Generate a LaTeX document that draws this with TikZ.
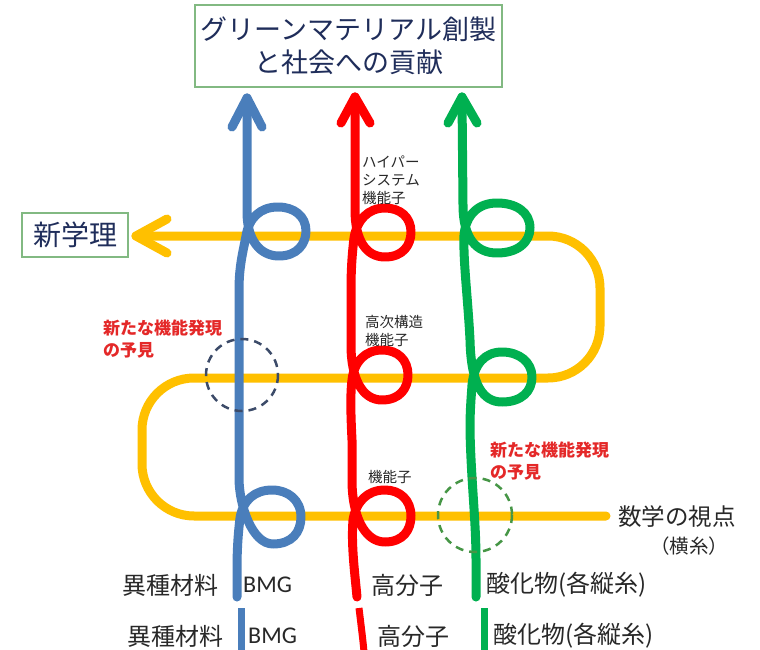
\documentclass[tikz,border=0pt]{standalone}
\usepackage{fontspec}
\setmainfont{Noto Sans CJK JP}
\newfontfamily\latinfont{Carlito}
\definecolor{tyellow}{RGB}{255,192,0}
\definecolor{tblue}{RGB}{74,126,187}
\definecolor{tred}{RGB}{255,0,0}
\definecolor{tgreen}{RGB}{0,176,80}
\definecolor{boxgreen}{RGB}{130,185,130}
\definecolor{navy}{RGB}{31,45,90}
\definecolor{notered}{RGB}{228,40,40}
\definecolor{dashblue}{RGB}{60,75,105}
\definecolor{dashgreen}{RGB}{70,150,70}
\definecolor{txt}{RGB}{40,40,40}
\tikzset{
  thread/.style={line width=9pt, line cap=round, line join=round},
  labelbox/.style={draw=boxgreen, line width=1.5pt, fill=white, text=navy, inner sep=0pt, align=center},
  note/.style={text=notered, font=\fontsize{17}{22}\selectfont\bfseries, align=left, anchor=west, inner sep=0pt},
  smalllabel/.style={text=txt, font=\fontsize{14.5}{18}\selectfont, align=left, anchor=west, inner sep=0pt},
  bottomtext/.style={text=txt, font=\fontsize{24}{26}\selectfont, anchor=west, inner sep=0pt},
  hint/.style={dash pattern=on 8pt off 6pt, line width=2.5pt},
}
\begin{document}
\begin{tikzpicture}[x=1pt,y=-1pt]
\fill[white] (0,0) rectangle (760,650);
\useasboundingbox (0,0) rectangle (760,650);

% coordinates
\coordinate (ytip) at (136,236);
\coordinate (yend) at (606,516);
\coordinate (btip) at (247,98);
\coordinate (bend) at (237,597);
\coordinate (rtip) at (355,97);
\coordinate (rend) at (357,597);
\coordinate (gtip) at (462,97);
\coordinate (gend) at (476,597);

% yellow weft thread
\draw[thread, tyellow, rounded corners=52pt] (yend) -- (142,516) -- (142,378) -- (600,378) -- (600,236) -- (ytip);
\draw[thread, tyellow] (167,219) -- (ytip) -- (167,253);

% blue thread
\draw[thread, tblue] (btip) -- (247,212)
  .. controls (247,240) and (260,256) .. (279,256)
  .. controls (297,256) and (306,244) .. (306,231)
  .. controls (306,216) and (294,207) .. (278,207)
  .. controls (260,207) and (249,218) .. (246,236)
  .. controls (243,252) and (239,266) .. (239,290)
  -- (239,478)
  .. controls (239,505) and (252,544) .. (273,544)
  .. controls (292,544) and (301,532) .. (301,517)
  .. controls (301,500) and (288,490) .. (272,490)
  .. controls (255,490) and (243,500) .. (240,518)
  .. controls (238,535) and (237,550) .. (237,570) -- (bend);
\draw[thread, tblue] (232,127) -- (btip) -- (262,127);

% red thread
\draw[thread, tred] (rtip) -- (355,210)
  .. controls (355,240) and (366,257) .. (385,257)
  .. controls (403,257) and (411,245) .. (411,232)
  .. controls (411,217) and (400,208) .. (385,208)
  .. controls (368,208) and (357,220) .. (354,238)
  .. controls (352,255) and (351,270) .. (351,290)
  -- (351,345)
  .. controls (351,378) and (362,400) .. (382,400)
  .. controls (400,400) and (408,388) .. (408,375)
  .. controls (408,360) and (398,350) .. (382,350)
  .. controls (365,350) and (354,362) .. (352,380)
  .. controls (350,395) and (351,420) .. (352,440)
  -- (352,480)
  .. controls (352,515) and (364,542) .. (385,542)
  .. controls (403,542) and (411,530) .. (411,516)
  .. controls (411,500) and (400,490) .. (385,490)
  .. controls (367,490) and (356,502) .. (353,520)
  .. controls (351,545) and (355,575) .. (rend);
\draw[thread, tred] (341,123) -- (rtip) -- (370,123);

% green thread
\draw[thread, tgreen] (gtip) -- (463,205)
  .. controls (463,238) and (476,253) .. (497,253)
  .. controls (518,253) and (530,242) .. (530,228)
  .. controls (530,212) and (516,203) .. (497,203)
  .. controls (478,203) and (466,215) .. (464,235)
  .. controls (463,260) and (468,300) .. (470,340)
  .. controls (471,385) and (483,402) .. (502,402)
  .. controls (522,402) and (532,391) .. (532,377)
  .. controls (532,362) and (519,352) .. (502,352)
  .. controls (485,352) and (474,364) .. (472,385)
  .. controls (471,400) and (470,410) .. (470,430)
  .. controls (471,480) and (476,520) .. (476,560) -- (gend);
\draw[thread, tgreen] (448,123) -- (gtip) -- (477,123);

% dashed hint circles
\draw[hint, dashblue] (242,375) circle[radius=36];
\draw[hint, dashgreen] (475,515) circle[radius=37];

% boxes
\node[labelbox, minimum width=307, minimum height=82, font=\fontsize{27}{33}\selectfont] (title) at (348.5,46) {グリーンマテリアル創製\\と社会への貢献};
\node[labelbox, minimum width=106, minimum height=44, font=\fontsize{28}{32}\selectfont] (gakuri) at (75,235) {新学理};

% labels
\node[smalllabel] (hyper) at (362,180) {ハイパー\\システム\\機能子};
\node[smalllabel] (koji) at (365,331) {高次構造\\機能子};
\node[smalllabel] (kinou) at (368,477) {機能子};
\node[note] (yoken1) at (103,339) {新たな機能発現\\の予見};
\node[note] (yoken2) at (490,461) {新たな機能発現\\の予見};
\node[text=txt, font=\fontsize{23.5}{26}\selectfont, anchor=west, inner sep=0pt] (sugaku) at (618,517) {数学の視点};
\node[text=txt, font=\fontsize{19.5}{24}\selectfont, inner sep=0pt] (yokoito) at (689,546) {（横糸）};

% bottom row 1
\node[bottomtext] (r1a) at (122,585) {異種材料};
\node[bottomtext, font=\fontsize{24}{26}\selectfont\latinfont] (r1b) at (243,585) {BMG};
\node[bottomtext] (r1c) at (371,585) {高分子};
\node[bottomtext] (r1d) at (486,585) {酸化物(各縦糸)};

% bottom row 2
\coordinate (b2t) at (241,608); \coordinate (b2b) at (241,652);
\coordinate (r2t) at (359,608); \coordinate (r2b) at (364,652);
\coordinate (g2t) at (484,608); \coordinate (g2b) at (484,652);
\draw[thread, tblue, line cap=butt, line width=7pt] (b2t) -- (b2b);
\draw[thread, tred, line cap=butt, line width=7pt] (r2t) .. controls (361,625) and (363,640) .. (r2b);
\draw[thread, tgreen, line cap=butt, line width=7pt] (g2t) -- (g2b);
\node[bottomtext] (r2a) at (127,636) {異種材料};
\node[bottomtext, font=\fontsize{24}{26}\selectfont\latinfont] (r2b) at (248,636) {BMG};
\node[bottomtext] (r2c) at (377,636) {高分子};
\node[bottomtext] (r2d) at (493,636) {酸化物(各縦糸)};
\end{tikzpicture}
\end{document}
